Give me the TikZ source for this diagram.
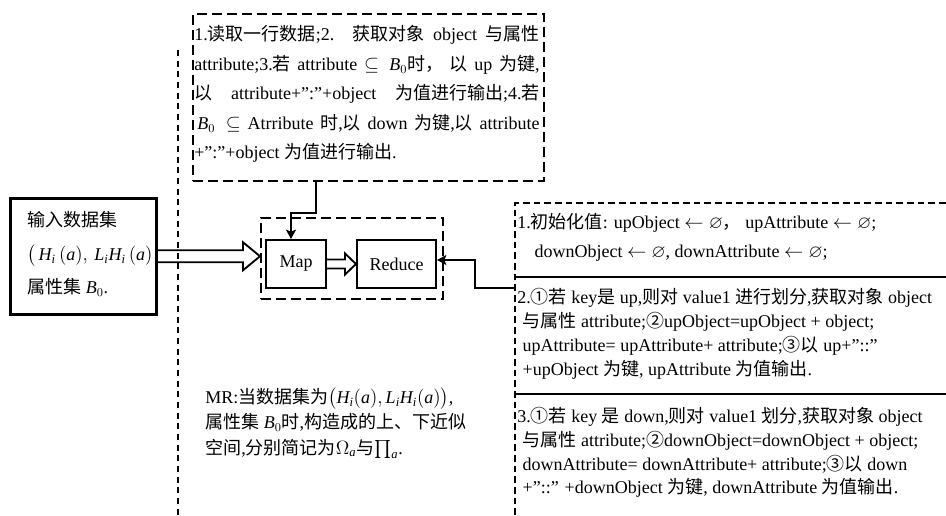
\documentclass[tikz,border=0pt]{standalone}
\usepackage{amsmath,amssymb}
\usepackage{fontspec}
\setmainfont{Liberation Serif}
\newfontfamily\cjkfont{Noto Sans CJK SC}[Scale=1.0]
\newcommand\zh[1]{{\cjkfont #1}}
\newcommand\m[1]{\mathit{#1}}
\usetikzlibrary{arrows.meta,calc}
\newcommand\hollowarrow[6][]{%
  \draw[arrowline,#1] ($(#2)+(0,-#4)$) -- ($(#3)+(-#6,-#4)$) -- ($(#3)+(-#6,-#5)$) -- (#3)
    -- ($(#3)+(-#6,#5)$) -- ($(#3)+(-#6,#4)$) -- ($(#2)+(0,#4)$);}
\def\u{0.75pt}
\begin{document}
\begin{tikzpicture}[x=0.75pt,y=-0.75pt,
  boxnode/.style={inner sep=0pt, anchor=north west, line width=1.5pt},
  dbox/.style={boxnode, draw, dash pattern=on 7.5pt off 3.75pt},
  sbox/.style={boxnode, draw},
  txt/.style={inner sep=0pt, anchor=west, align=left},
  conn/.style={line width=1.5pt, -{Stealth[length=7pt,width=7.5pt,inset=1.5pt]}},
  arrowline/.style={line width=1.4pt, line join=miter},
  longdash/.style={line width=1.2pt, dash pattern=on 4.5pt off 3.5pt},
  paneldash/.style={line width=1.1pt, dash pattern=on 5pt off 3pt},
  panelline/.style={line width=1.2pt}]
\fill[white] (0,0) rectangle (946,515);
\useasboundingbox (0,0) rectangle (946,515);

% boxes
\node[dbox, minimum width=351*\u, minimum height=167*\u] (topbox) at (192,13) {};
\node[sbox, line width=1.9pt, minimum width=146*\u, minimum height=116*\u] (inbox) at (9,197) {};
\node[dbox, minimum width=182*\u, minimum height=81*\u] (mrbox) at (260,217) {};
\node[sbox, minimum width=60*\u, minimum height=48*\u] (map) at (265,239) {};
\node[sbox, minimum width=79*\u, minimum height=48*\u] (reduce) at (356,239) {};
\node[font=\fontsize{13.5}{16}\selectfont] (maptxt) at (map.center) {Map};
\node[font=\fontsize{13.5}{16}\selectfont] (redtxt) at (reduce.center) {Reduce};

% long dashed separator
\coordinate (ls1) at (178,50);
\coordinate (ls2) at (178,515);
\draw[longdash] (ls1) -- (ls2);

% right panel
\coordinate (pbl) at (515,515);
\coordinate (ptl) at (515,203);
\coordinate (ptr) at (946,203);
\draw[paneldash] (pbl) -- (ptl) -- (ptr);
\coordinate (d1a) at (515,277);
\coordinate (d1b) at (946,277);
\coordinate (d2a) at (515,394);
\coordinate (d2b) at (946,394);
\draw[panelline] (d1a) -- (d1b);
\draw[panelline] (d2a) -- (d2b);

% top box text
\node[txt, font=\fontsize{13.5}{22.1}\selectfont] (toptxt) at (194,94) {%
\makebox[259pt][s]{1.\zh{读取一行数据};2. \zh{获取对象} object \zh{与属性}}\\
\makebox[259pt][s]{attribute;3.\zh{若} attribute $\subseteq \m{B}_0$\zh{时，} \zh{以} up \zh{为键},}\\
\makebox[259pt][s]{\zh{以} attribute+”:”+object \zh{为值进行输出};4.\zh{若}}\\
\makebox[259pt][s]{\,$\m{B}_0\subseteq$ Atrribute \zh{时},\zh{以} down \zh{为键},\zh{以} attribute}\\
+”:”+object \zh{为值进行输出}.};

% input text
\node[txt, font=\fontsize{13.5}{25}\selectfont] (intxt) at (27,254) {%
\zh{输入数据集}\\
$\big(\,\m{H}_{\m{i}}\,(\m{a}),\, \m{L}_{\m{i}}\m{H}_{\m{i}}\,(\m{a})$\\
\zh{属性集} $\m{B}_0$.};

% right panel texts
\node[txt, font=\fontsize{13.5}{21.75}\selectfont] (s1) at (517,237.5) {%
1.\zh{初始化值}: upObject $\leftarrow\varnothing$\zh{，} upAttribute $\leftarrow\varnothing$;\\
\hspace*{13pt}downObject $\leftarrow\varnothing$, downAttribute $\leftarrow\varnothing$;};
\node[txt, font=\fontsize{13.5}{18}\selectfont] (s2) at (517,334) {%
2.\zh{①若} key\zh{是} up,\zh{则对} value1 \zh{进行划分},\zh{获取对象} object\\
\hspace*{4pt}\zh{与属性} attribute;\zh{②}upObject=upObject + object;\\
\hspace*{4pt}upAttribute= upAttribute+ attribute;\zh{③以} up+”::”\\
\hspace*{4pt}+upObject \zh{为键}, upAttribute \zh{为值输出}.};
\node[txt, font=\fontsize{13.5}{17.8}\selectfont] (s3) at (517,452.5) {%
3.\zh{①若} key \zh{是} down,\zh{则对} value1 \zh{划分},\zh{获取对象} object\\
\hspace*{4pt}\zh{与属性} attribute;\zh{②}downObject=downObject + object;\\
\hspace*{4pt}downAttribute= downAttribute+ attribute;\zh{③以} down\\
\hspace*{4pt}+”::” +downObject \zh{为键}, downAttribute \zh{为值输出}.};

% MR text
\node[txt, font=\fontsize{13.5}{19}\selectfont] (mrtxt) at (205,423) {%
MR:\zh{当数据集为}$\big(\m{H}_{\m{i}}(\m{a}), \m{L}_{\m{i}}\m{H}_{\m{i}}(\m{a})\big)$,\\
\zh{属性集} $\m{B}_0$\zh{时},\zh{构造成的上、下近似}\\
\zh{空间},\zh{分别简记为}$\Omega_{\m{a}}$\zh{与}$\prod\nolimits_{\m{a}}$.};

% hollow arrows
\path ($(map.west)+(-5,0)$) coordinate (mw);
\coordinate (tipA) at (mw |- inbox.east);
\hollowarrow{inbox.east}{tipA}{6}{14}{17}
\hollowarrow{map.east}{reduce.west}{4.5}{10.5}{11}

% connectors
\coordinate (tstart) at ($(topbox.south)+(-52.5,0)$);
\coordinate (mapin) at ($(map.north)+(-5,0)$);
\draw[conn] (tstart) -- ++(0,31) -| (mapin);
\coordinate (pin) at (515,288);
\coordinate (redin) at ($(reduce.east)+(0,-4)$);
\draw[conn] (pin) -- ++(-40,0) |- (redin);
\end{tikzpicture}
\end{document}
